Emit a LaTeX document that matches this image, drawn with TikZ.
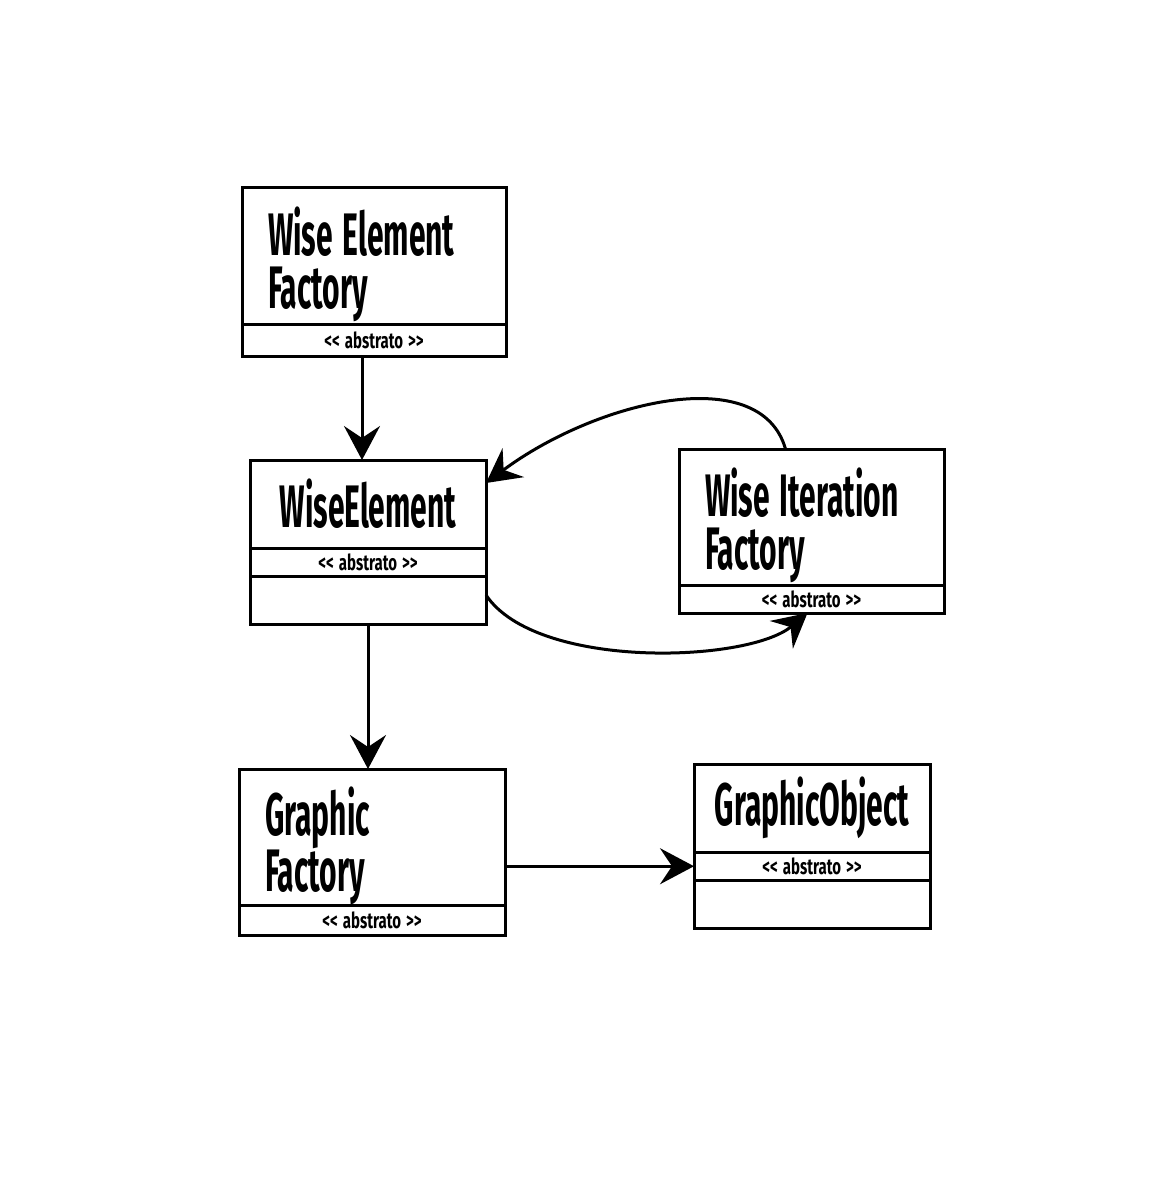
\documentclass[tikz,border=0pt]{standalone}
\usepackage{fontspec}
\newfontfamily\umlfont{Fira Sans}[FakeStretch=0.5]
\newfontfamily\stereofont{Fira Sans}[FakeStretch=0.68]
\usetikzlibrary{arrows.meta,positioning}
\newcommand\abstrato{<\kern0pt< abstrato >\kern0pt>}
\newcommand\topgap{\rule{0pt}{33pt}}
\newcommand\gap{\hspace{5pt}}
\newcommand\namefont{\umlfont\bfseries\fontsize{30}{26.5}\selectfont}
\newcommand\stereosize{\stereofont\bfseries\fontsize{11}{12}\selectfont\spaceskip 2.5pt\relax}
\tikzset{
  part/.style={draw, line width=1.5pt, inner sep=0pt, outer sep=0pt},
  classname/.style={part, font=\namefont, align=left},
  stereo/.style={part, font=\stereosize},
  link/.style={line width=1.5pt, -{Stealth[length=17pt, width=18pt, inset=6pt]}}
}
\begin{document}
\begin{tikzpicture}[x=0.5pt, y=-0.5pt]
  \useasboundingbox (0,0) rectangle (1164,1188);
  % Wise Element Factory
  \node[classname, minimum width=132pt, minimum height=68.5pt, text width=106pt, anchor=north west] (wef) at (242,187) {\topgap Wise\gap Element\\Factory};
  \node[stereo, minimum width=132pt, minimum height=16pt, below=0pt of wef] (wefAbs) {\abstrato};
  % WiseElement
  \node[classname, minimum width=118pt, minimum height=44pt, anchor=north west] (we) at (250,460) {WiseElement};
  \node[stereo, minimum width=118pt, minimum height=14pt, below=0pt of we] (weAbs) {\abstrato};
  \node[part, minimum width=118pt, minimum height=24pt, below=0pt of weAbs] (weBody) {};
  % Wise Iteration Factory
  \node[classname, minimum width=132.5pt, minimum height=68pt, text width=106.5pt, anchor=north west] (wif) at (679,449) {\topgap Wise\gap Iteration\\Factory};
  \node[stereo, minimum width=132.5pt, minimum height=14pt, below=0pt of wif] (wifAbs) {\abstrato};
  % Graphic Factory
  \node[classname, minimum width=133pt, minimum height=67pt, text width=107pt, anchor=north west] (gf) at (239,769) {\topgap Graphic\\Factory};
  \node[stereo, minimum width=133pt, minimum height=15pt, below=0pt of gf] (gfAbs) {\abstrato};
  % GraphicObject
  \node[classname, minimum width=118pt, minimum height=44pt, anchor=north west] (go) at (694,764) {GraphicObject};
  \node[stereo, minimum width=118pt, minimum height=14pt, below=0pt of go] (goAbs) {\abstrato};
  \node[part, minimum width=118pt, minimum height=24pt, below=0pt of goAbs] (goBody) {};
  % connectors
  \draw[link] ([xshift=-6pt]wefAbs.south) -- ([xshift=-6pt]wefAbs.south |- we.north);
  \draw[link] (weBody.south) -- (weBody.south |- gf.north);
  \draw[link] ([yshift=19.5pt]gf.south east) -- ([yshift=19.5pt]gf.south east -| go.west);
  \draw[link] ([xshift=-13pt]wif.north) .. controls +(-25,-88) and +(110,-82) .. ([yshift=-11.5pt]we.north east);
  \draw[link] ([yshift=14.5pt]weBody.south east) .. controls +(50,75) and +(-60,50) .. ([xshift=-2pt]wifAbs.south);
\end{tikzpicture}
\end{document}
